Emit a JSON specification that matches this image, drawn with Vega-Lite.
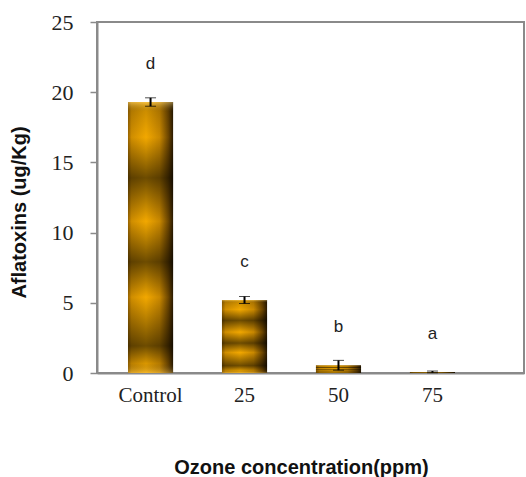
{
  "$schema": "https://vega.github.io/schema/vega-lite/v6.json",
  "width": 427,
  "height": 351,
  "autosize": "none",
  "padding": {"left": 97, "top": 22, "right": 2, "bottom": 104},
  "background": "white",
  "config": {"view": {"stroke": "#8a8a8a", "strokeWidth": 2}},
  "data": {
    "values": [
      {"group": "Control", "mean": 19.3, "err": 0.3, "letter": "d"},
      {"group": "25", "mean": 5.2, "err": 0.25, "letter": "c"},
      {"group": "50", "mean": 0.55, "err": 0.35, "letter": "b"},
      {"group": "75", "mean": 0.08, "err": 0.06, "letter": "a"}
    ]
  },
  "encoding": {
    "x": {
      "field": "group",
      "type": "nominal",
      "sort": null,
      "scale": {"paddingInner": 0.52, "paddingOuter": 0.532, "align": 0.31},
      "axis": {
        "title": "Ozone concentration(ppm)",
        "ticks": false,
        "domainColor": "#8a8a8a",
        "domainWidth": 2,
        "labelFont": "Liberation Serif",
        "labelFontSize": 21,
        "labelColor": "#222222",
        "labelPadding": 11,
        "labelAngle": 0,
        "titleFont": "Liberation Sans",
        "titleFontSize": 20,
        "titleFontWeight": "bold",
        "titleColor": "#111111",
        "titleX": 204,
        "titleY": 94,
        "titleBaseline": "middle"
      }
    },
    "y": {
      "field": "mean",
      "type": "quantitative",
      "scale": {"domain": [0, 25], "nice": false},
      "axis": {
        "title": "Aflatoxins (ug/Kg)",
        "values": [0, 5, 10, 15, 20, 25],
        "grid": false,
        "domainColor": "#8a8a8a",
        "domainWidth": 2,
        "tickColor": "#8a8a8a",
        "tickSize": 7,
        "tickWidth": 1.5,
        "labelFont": "Liberation Serif",
        "labelFontSize": 22,
        "labelColor": "#222222",
        "labelPadding": 17,
        "titleFont": "Liberation Sans",
        "titleFontSize": 20,
        "titleFontWeight": "bold",
        "titleColor": "#111111",
        "titleX": -78,
        "titleY": 190,
        "titleAngle": 270,
        "titleBaseline": "middle",
        "titleAlign": "center"
      }
    }
  },
  "layer": [
    {
      "mark": {
        "type": "bar",
        "color": {
          "gradient": "linear",
          "x1": 0, "y1": 0, "x2": 1, "y2": 0,
          "stops": [
            {"offset": 0, "color": "#9a6500"},
            {"offset": 0.08, "color": "#d08e00"},
            {"offset": 0.4, "color": "#f2a800"},
            {"offset": 0.7, "color": "#c98800"},
            {"offset": 0.9, "color": "#6a4400"},
            {"offset": 1, "color": "#2a1a00"}
          ]
        }
      }
    },
    {
      "mark": {
        "type": "bar",
        "color": {
          "gradient": "linear",
          "x1": 0, "y1": 0, "x2": 0, "y2": 1,
          "stops": [
            {"offset": 0, "color": "rgba(255,225,140,0.45)"},
            {"offset": 0.035, "color": "rgba(0,0,0,0.15)"},
            {"offset": 0.13, "color": "rgba(0,0,0,0)"},
            {"offset": 0.28, "color": "rgba(0,0,0,0.55)"},
            {"offset": 0.44, "color": "rgba(0,0,0,0)"},
            {"offset": 0.59, "color": "rgba(0,0,0,0.55)"},
            {"offset": 0.72, "color": "rgba(0,0,0,0)"},
            {"offset": 0.9, "color": "rgba(0,0,0,0.55)"},
            {"offset": 0.965, "color": "rgba(0,0,0,0.1)"},
            {"offset": 1, "color": "rgba(255,215,120,0.35)"}
          ]
        }
      }
    },
    {
      "mark": {
        "type": "errorbar",
        "color": "black",
        "ticks": {"size": 11, "strokeWidth": 2, "color": "black"},
        "rule": {"strokeWidth": 2, "color": "black"}
      },
      "encoding": {"yError": {"field": "err"}}
    },
    {
      "mark": {
        "type": "text",
        "font": "Liberation Sans",
        "fontSize": 17,
        "dy": -38,
        "color": "#222222",
        "baseline": "middle"
      },
      "encoding": {"text": {"field": "letter"}}
    }
  ]
}
